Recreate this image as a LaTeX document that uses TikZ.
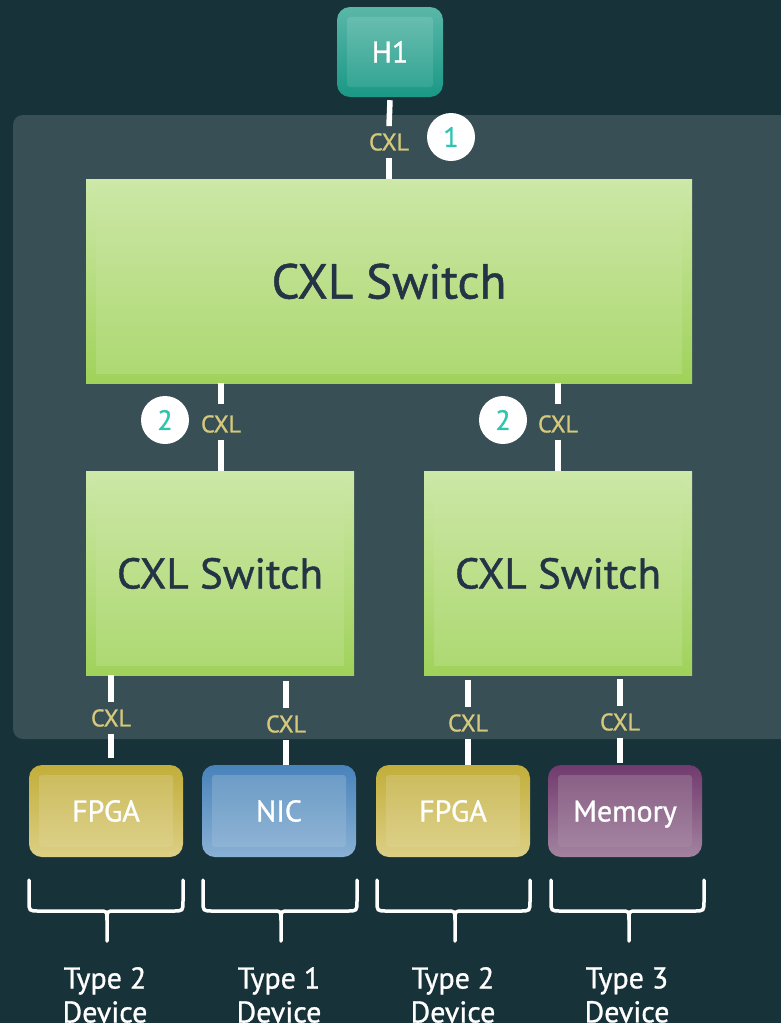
\documentclass[tikz,border=0pt]{standalone}
\usepackage{fontspec}
\setmainfont{PT Sans}[FakeBold=1]
\definecolor{bgc}{RGB}{23,50,56}
\definecolor{panelc}{RGB}{56,79,85}
\definecolor{swtop}{RGB}{205,232,168}
\definecolor{swbot}{RGB}{160,210,90}
\definecolor{switop}{RGB}{204,231,166}
\definecolor{swibot}{RGB}{172,216,112}
\definecolor{darktext}{RGB}{37,52,69}
\definecolor{cxlc}{RGB}{214,201,124}
\definecolor{tealnum}{RGB}{46,196,176}
\definecolor{hTop}{RGB}{90,183,168}
\definecolor{hBot}{RGB}{26,152,134}
\definecolor{hiTop}{RGB}{112,192,179}
\definecolor{hiBot}{RGB}{45,162,144}
\definecolor{fTop}{RGB}{194,174,58}
\definecolor{fBot}{RGB}{220,207,133}
\definecolor{fiTop}{RGB}{203,186,90}
\definecolor{fiBot}{RGB}{221,210,140}
\definecolor{nTop}{RGB}{72,131,186}
\definecolor{nBot}{RGB}{138,176,213}
\definecolor{niTop}{RGB}{104,153,196}
\definecolor{niBot}{RGB}{146,182,215}
\definecolor{mTop}{RGB}{113,58,110}
\definecolor{mBot}{RGB}{163,131,160}
\definecolor{miTop}{RGB}{135,92,131}
\definecolor{miBot}{RGB}{166,135,163}
\begin{document}
\begin{tikzpicture}[x=1pt,y=-1pt,
  gbox/.style n args={5}{draw=none, top color=#1, bottom color=#2,
    path picture={\shade[top color=#3, bottom color=#4, rounded corners=#5]
      ([shift={(10pt,-10pt)}]path picture bounding box.north west) rectangle
      ([shift={(-10pt,10pt)}]path picture bounding box.south east);}},
  switchbox/.style={gbox={swtop}{swbot}{switop}{swibot}{0pt}, minimum height=204pt,
    inner sep=0pt, text=darktext, text depth=0pt},
  devbox/.style={rounded corners=13pt, minimum width=154pt, minimum height=92pt,
    inner sep=0pt, text=white, font=\fontsize{30}{32}\selectfont,
    text height=21pt, text depth=0pt},
  link/.style={draw=white, line width=5.5pt},
  cxl/.style={text=cxlc, font=\fontsize{24}{26}\selectfont, inner xsep=2pt, inner ysep=7pt},
  badge/.style={circle, fill=white, minimum size=48pt, inner sep=0pt, text=tealnum,
    font=\fontsize{28}{28}\selectfont},
  bracket/.style={draw=white, line width=3.5pt, line cap=round, line join=round},
  devlabel/.style={text=white, align=center, font=\fontsize{30}{34}\selectfont}
]
\fill[bgc] (0,0) rectangle (781,1023);
\useasboundingbox (0,0) rectangle (781,1023);
\fill[panelc, rounded corners=10pt] (13,115) rectangle (810,739);

% host
\node[gbox={hTop}{hBot}{hiTop}{hiBot}{3pt}, rounded corners=13pt, minimum width=106pt,
  minimum height=90pt, inner sep=0pt, text=white, font=\fontsize{30}{32}\selectfont,
  text height=21pt, text depth=0pt]
  (h1) at (390,52) {H1};

% switches
\node[switchbox, minimum width=606pt, font=\fontsize{49}{50}\selectfont, text height=35pt]
  (sw0) at (389,281) {CXL Switch};
\node[switchbox, minimum width=268pt, font=\fontsize{43}{44}\selectfont, text height=31pt]
  (sw1) at (220,573) {CXL Switch};
\node[switchbox, minimum width=268pt, font=\fontsize{43}{44}\selectfont, text height=31pt]
  (sw2) at (558,573) {CXL Switch};

% devices
\node[devbox, gbox={fTop}{fBot}{fiTop}{fiBot}{3pt}] (fpga1) at (106,811) {FPGA};
\node[devbox, gbox={nTop}{nBot}{niTop}{niBot}{3pt}] (nic) at (279,811) {NIC};
\node[devbox, gbox={fTop}{fBot}{fiTop}{fiBot}{3pt}] (fpga2) at (453,811) {FPGA};
\node[devbox, gbox={mTop}{mBot}{miTop}{miBot}{3pt}] (mem) at (625,811) {Memory};

% link labels
\node[cxl] (c0) at (389,142) {CXL};
\node[cxl] (c1) at (221,424) {CXL};
\node[cxl] (c2) at (558,424) {CXL};
\node[cxl] (c3) at (111,718) {CXL};
\node[cxl] (c4) at (286,724) {CXL};
\node[cxl] (c5) at (468,723) {CXL};
\node[cxl] (c6) at (620,722) {CXL};

% links
\draw[link] ([yshift=-3pt]h1.south) -- (c0.north);
\draw[link] (c0.south) -- (sw0.north);
\draw[link] (c1.north |- sw0.south) -- ([yshift=4pt]c1.north);
\draw[link] (c1.south) -- (c1.south |- sw1.north);
\draw[link] (c2.north |- sw0.south) -- ([yshift=4pt]c2.north);
\draw[link] (c2.south) -- (c2.south |- sw2.north);
\draw[link] (c3.north |- sw1.south) -- (c3.north);
\draw[link] (c3.south) -- ([yshift=7pt]c3.south |- fpga1.north);
\draw[link] ([yshift=-6pt]c4.north |- sw1.south) -- (c4.north);
\draw[link] (c4.south) -- (c4.south |- nic.north);
\draw[link] ([yshift=-5pt]c5.north |- sw2.south) -- (c5.north);
\draw[link] (c5.south) -- (c5.south |- fpga2.north);
\draw[link] ([yshift=-4pt]c6.north |- sw2.south) -- (c6.north);
\draw[link] (c6.south) -- ([yshift=2pt]c6.south |- mem.north);

% step badges
\node[badge] (b1) at (451,137) {1};
\node[badge] (b2) at (165,420) {2};
\node[badge] (b3) at (503,420) {2};

% brackets and device types
\foreach \a/\b/\c/\t [count=\i] in {29/183/107/2, 203/357/281/1, 377/530/455/2, 551/704/629/3}{
  \draw[bracket] (\a,880) -- (\a,901) .. controls (\a,911) .. (\a+10,911) -- (\c-8,911)
    .. controls (\c,911) .. (\c,920) -- (\c,941);
  \draw[bracket] (\b,880) -- (\b,901) .. controls (\b,911) .. (\b-10,911) -- (\c+8,911)
    .. controls (\c,911) .. (\c,920);
  \node[devlabel] (t\i) at (\c-2,995) {Type \t\\Device};
}
\end{tikzpicture}
\end{document}
